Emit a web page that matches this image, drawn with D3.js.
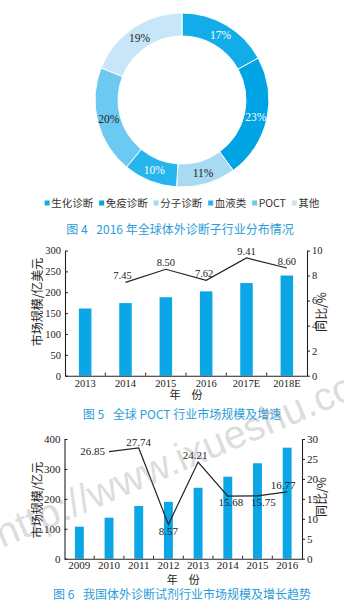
<!DOCTYPE html>
<html><head><meta charset="utf-8">
<script src="https://cdn.jsdelivr.net/npm/d3@7"></script>
<style>
html,body{margin:0;padding:0;background:#fff;}
svg{display:block;}
</style></head>
<body>
<svg id="c" width="344" height="612"></svg>
<script>
// ---------- DATA ----------
const donutCategories = ["生化诊断","免疫诊断","分子诊断","血液类","POCT","其他"];
const donutValues = [17,23,11,10,20,19];
const donutLabels = ["17%","23%","11%","10%","20%","19%"];

const pocYears = ["2013","2014","2015","2016","2017E","2018E"];
const pocMarket = [161,174,188,202,222,240];
const pocGrowth = [null,7.45,8.50,7.62,9.41,8.60];
const pocLeftTicks = [0,50,100,150,200,250,300];
const pocRightTicks = [0,2,4,6,8,10];

const ivdYears = ["2009","2010","2011","2012","2013","2014","2015","2016"];
const ivdMarket = [107,137,176,190,237,274,319,371];
const ivdGrowth = [null,26.85,27.74,8.57,24.21,15.68,15.75,16.77];
const ivdLeftTicks = [0,100,200,300,400];
const ivdRightTicks = [0,5,10,15,20,25,30];

const captions = ["图 4\u2002 2016 年全球体外诊断子行业分布情况",
                  "图 5\u2002 全球 POCT 行业市场规模及增速",
                  "图 6\u2002 我国体外诊断试剂行业市场规模及增长趋势"];

// ---------- STYLE ----------
const donutColors = ["#12ade9","#00a3e3","#a9daf4","#26b5ec","#6cc9f1","#c7e6f7"];
const donutLabelColors = ["#fff","#fff","#222","#fff","#222","#222"];
const barColor = "#0aa6e6";
const capColor = "#2a9dd8";
const serif = "'Liberation Serif','Times New Roman',serif";
const cjk = "'Noto Sans CJK SC','Noto Sans',sans-serif";

const svg = d3.select("#c");
svg.append("rect").attr("width",344).attr("height",612).attr("fill","#fff");

// ---------- DONUT ----------
const g1 = svg.append("g").attr("transform","translate(182,100)");
const pie = d3.pie().sort(null).value(d=>d)(donutValues);
const arc = d3.arc().innerRadius(64).outerRadius(87);
g1.selectAll("path").data(pie).join("path")
  .attr("d",arc).attr("fill",(d,i)=>donutColors[i])
  .attr("stroke","#fff").attr("stroke-width",1);
g1.selectAll("text").data(pie).join("text")
  .attr("transform",d=>`translate(${arc.centroid(d)})`)
  .attr("text-anchor","middle").attr("dy","0.35em")
  .attr("font-family",serif).attr("font-size",11.5)
  .attr("fill",(d,i)=>donutLabelColors[i])
  .text((d,i)=>donutLabels[i]);

// legend
const lg = svg.append("g").attr("transform","translate(0,203)");
let lx = 0;
const items = [];
donutCategories.forEach((c,i)=>{
  const it = lg.append("g");
  it.append("rect").attr("x",0).attr("y",-2.5).attr("width",5).attr("height",5).attr("fill",donutColors[i]);
  const t = it.append("text").attr("x",6.5).attr("dy","0.35em")
    .attr("font-family",cjk).attr("font-size",10.5).attr("fill","#333").text(c);
  const w = 6.5 + t.node().getComputedTextLength();
  items.push({it,x:lx});
  lx += w + 6;
});
const totalW = lx - 6;
const lstart = 182 - totalW/2;
items.forEach(o=>o.it.attr("transform",`translate(${lstart+o.x},0)`));

// ---------- CAPTIONS ----------
[[180,230],[182,415],[182,595]].forEach((p,i)=>{
  svg.append("text").attr("x",p[0]).attr("y",p[1]).attr("dy","0.35em")
    .attr("text-anchor","middle").attr("font-family",cjk).attr("font-size",12)
    .attr("fill",capColor).text(captions[i]);
});

// ---------- COMBO CHART FUNCTION ----------
function combo(opt){
  const g = svg.append("g");
  const x = d3.scaleBand().domain(opt.cats).range([opt.x0,opt.x1]).padding(0);
  const yL = d3.scaleLinear().domain([0,opt.lmax]).range([opt.yb,opt.yt]);
  const yR = d3.scaleLinear().domain([0,opt.rmax]).range([opt.yb,opt.yt]);
  const bw = x.bandwidth()*opt.barFrac;
  // bars
  g.selectAll("rect.bar").data(opt.market).join("rect").attr("class","bar")
    .attr("x",(d,i)=>x(opt.cats[i])+x.bandwidth()/2-bw/2)
    .attr("y",d=>yL(d)).attr("width",bw).attr("height",d=>opt.yb-yL(d))
    .attr("fill",barColor);
  // axes
  const aL = g.append("g").attr("transform",`translate(${opt.x0},0)`)
    .call(d3.axisLeft(yL).tickValues(opt.lt).tickSizeInner(-3).tickSizeOuter(0).tickPadding(4));
  const aR = g.append("g").attr("transform",`translate(${opt.x1},0)`)
    .call(d3.axisRight(yR).tickValues(opt.rt).tickSizeInner(3).tickSizeOuter(0).tickPadding(2));
  const aB = g.append("g").attr("transform",`translate(0,${opt.yb})`)
    .call(d3.axisBottom(x).tickSize(0).tickPadding(opt.tickPadB));
  // boundary ticks on x axis
  const bounds = opt.cats.slice(1).map(c=>x(c));
  g.selectAll("line.bt").data(bounds).join("line").attr("class","bt")
    .attr("x1",d=>d).attr("x2",d=>d).attr("y1",opt.yb).attr("y2",opt.yb-3)
    .attr("stroke","#222").attr("stroke-width",1);
  [aL,aR,aB].forEach(a=>{
    a.selectAll("path.domain").attr("stroke","#222").attr("stroke-width",1.1);
    a.selectAll("line").attr("stroke","#222");
    a.selectAll("text").attr("font-family",serif).attr("font-size",opt.fs).attr("fill","#222");
  });
  // line
  const pts = opt.growth.map((v,i)=>({v,i})).filter(d=>d.v!=null);
  const line = d3.line().x(d=>x(opt.cats[d.i])+x.bandwidth()/2).y(d=>yR(d.v));
  g.append("path").datum(pts).attr("d",line).attr("fill","none")
    .attr("stroke","#222").attr("stroke-width",1.2);
  g.selectAll("text.vl").data(pts).join("text").attr("class","vl")
    .attr("x",(d,k)=>x(opt.cats[d.i])+x.bandwidth()/2+opt.lpos[k][0])
    .attr("y",(d,k)=>yR(d.v)+opt.lpos[k][1])
    .attr("text-anchor",(d,k)=>opt.lpos[k][2]||"middle")
    .attr("dy","0.35em")
    .attr("font-family",serif).attr("font-size",opt.fs).attr("fill","#222")
    .text(d=>d.v.toFixed(2));
  // titles
  g.append("text").attr("transform",`translate(${opt.ltx},${opt.lty}) rotate(-90)`)
    .attr("text-anchor","middle").attr("dy","0.35em")
    .attr("font-family",cjk).attr("font-size",12).attr("fill","#222").text(opt.ltitle);
  g.append("text").attr("transform",`translate(${opt.rtx},${opt.rty}) rotate(-90)`)
    .attr("text-anchor","middle").attr("dy","0.35em")
    .attr("font-family",cjk).attr("font-size",12).attr("fill","#222").text("同比/%");
  g.append("text").attr("x",(opt.x0+opt.x1)/2).attr("y",opt.xty).attr("dy","0.35em")
    .attr("text-anchor","middle").attr("font-family",cjk).attr("font-size",11)
    .attr("fill","#222").attr("xml:space","preserve").text("年\u2002\u2002份");
}

combo({cats:pocYears, market:pocMarket, growth:pocGrowth, lt:pocLeftTicks, rt:pocRightTicks,
  x0:65, x1:307, yt:250.5, yb:375.7, lmax:300, rmax:10, barFrac:0.31, fs:10.5, tickPadB:3.5,
  lpos:[[-3,-7],[0,-7],[-2,-7],[0,-7],[0,-7]],
  ltitle:"市场规模/亿美元", ltx:38, lty:302, rtx:322, rty:312, xty:395.5});

combo({cats:ivdYears, market:ivdMarket, growth:ivdGrowth, lt:ivdLeftTicks, rt:ivdRightTicks,
  x0:64.5, x1:302, yt:439, yb:558.7, lmax:400, rmax:30, barFrac:0.30, fs:11, tickPadB:2,
  lpos:[[-4,0,"end"],[0,-6],[0,7],[-3,-7],[3,6],[6,6],[-4,-7]],
  ltitle:"市场规模/亿元", ltx:38, lty:500, rtx:322, rty:497, xty:580});

// ---------- WATERMARK ----------
svg.append("text").attr("transform","translate(2,548) rotate(-23)")
  .attr("font-family","'Liberation Sans',Arial,sans-serif").attr("font-size",40)
  .attr("fill","#888").attr("fill-opacity",0.3)
  .text("http://www.ixueshu.com");
</script>
</body></html>
